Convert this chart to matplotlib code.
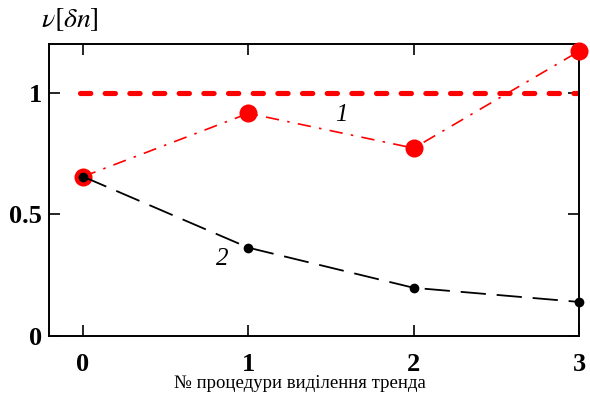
import matplotlib.pyplot as plt

x = [0, 1, 2, 3]
series1 = [0.655, 0.915, 0.772, 1.17]
series2 = [0.655, 0.363, 0.198, 0.14]
ref_level = 1.0
xticks = [0, 1, 2, 3]
yticks = [0, 0.5, 1]
ytick_labels = ['0', '0.5', '1']

plt.rcParams['font.family'] = ['Liberation Serif', 'DejaVu Serif']
plt.rcParams['mathtext.fontset'] = 'stix'

fig = plt.figure(figsize=(5.9, 3.98), dpi=100)
ax = fig.add_axes([49 / 590, 1 - 336 / 398, 530 / 590, 292 / 398])

ax.hlines(ref_level, -0.02, 3, color='#ff0000', lw=3.7, ls=(0, (2.0, 2.8)),
          capstyle='round')
ax.plot(x, series1, color='#ff0000', lw=1.2, ls=(0, (8, 5, 1.5, 5)),
        marker='o', ms=13, mec='none', mfc='#ff0000', clip_on=False, zorder=3)
ax.plot(x, series2, color='black', lw=1.3, ls=(0, (14, 6)),
        marker='o', ms=7, mec='none', mfc='black', clip_on=False, zorder=4)

ax.text(1.56, 0.91, '1', fontsize=18, style='italic', ha='center', va='center')
ax.text(0.84, 0.315, '2', fontsize=18, style='italic', ha='center', va='center')

ax.set_xlim(-0.206, 3)
ax.set_ylim(0, 1.2)
ax.set_xticks(xticks)
ax.set_yticks(yticks)
ax.set_yticklabels(ytick_labels)
ax.tick_params(direction='in', length=8, width=1.2, top=True, right=True,
               labelsize=19, pad=12)
ax.tick_params(axis='y', pad=5)
for lab in ax.get_xticklabels() + ax.get_yticklabels():
    lab.set_fontweight('bold')
for s in ax.spines.values():
    s.set_linewidth(1.4)

fig.text(300 / 590, 1 - 383 / 398, '№ процедури виділення тренда',
         fontsize=13.5, ha='center', va='center')
fig.text(70 / 590, 1 - 20 / 398, r'$\nu[\delta n]$', fontsize=20,
         ha='center', va='center')

fig.savefig('out.png', dpi=100)
